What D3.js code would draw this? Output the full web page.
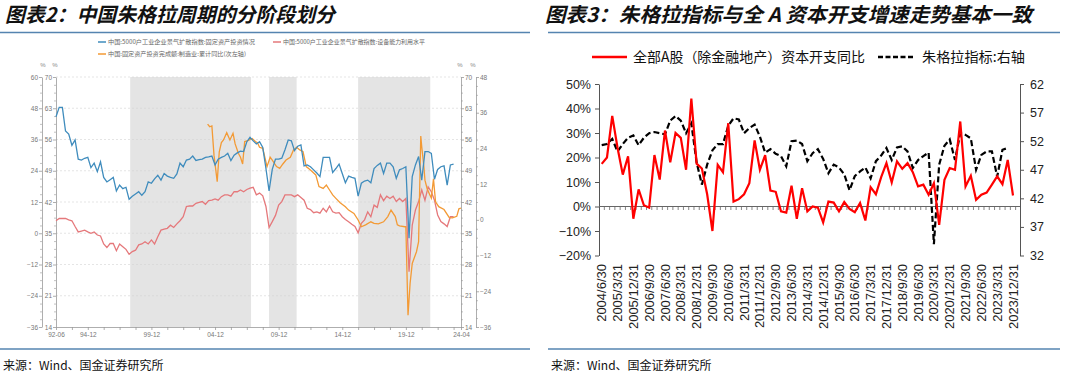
<!DOCTYPE html>
<html>
<head>
<meta charset="utf-8">
<script src="https://cdn.jsdelivr.net/npm/d3@7"></script>
<style>
  body { margin: 0; background: #fff; }
  svg { display: block; }
</style>
</head>
<body>
<svg id="chart" width="1080" height="378"></svg>
<script>
// ---------- 图表2 数据 ----------
const blueSeries = [ // 5000户工业企业景气扩散指数:固定资产投资情况 (内轴 14-70)
  ['1992-06',61.1],['1992-09',63.2],['1992-12',63.2],['1993-03',57.9],['1993-06',57.2],['1993-09',54.7],['1993-12',55.9],
  ['1994-03',51.6],['1994-06',51.4],['1994-09',51.8],['1994-12',52.0],['1995-03',49.7],['1995-06',50.7],['1995-09',48.8],
  ['1995-12',51.0],['1996-03',47.5],['1996-06',46.5],['1996-09',47.0],['1996-12',47.5],['1997-03',44.5],['1997-06',45.8],
  ['1997-09',45.0],['1997-12',45.3],['1998-03',42.6],['1998-06',43.3],['1998-09',43.8],['1998-12',44.3],['1999-03',43.5],
  ['1999-06',44.3],['1999-09',46.5],['1999-12',46.2],['2000-03',47.2],['2000-06',48.0],['2000-09',46.9],['2000-12',48.4],
  ['2001-03',47.8],['2001-06',47.5],['2001-09',47.3],['2001-12',48.3],['2002-03',50.7],['2002-06',49.9],['2002-09',51.4],
  ['2002-12',51.6],['2003-03',52.3],['2003-06',51.3],['2003-09',51.5],['2003-12',51.6],['2004-03',52.0],['2004-06',52.1],
  ['2004-09',52.3],['2004-12',50.3],['2005-03',51.6],['2005-06',52.0],['2005-09',52.3],['2005-12',52.9],['2006-03',51.3],
  ['2006-06',52.5],['2006-09',53.0],['2006-12',53.4],['2007-03',53.3],['2007-06',55.5],['2007-09',56.5],['2007-12',55.7],
  ['2008-03',55.0],['2008-06',55.5],['2008-09',54.2],['2008-12',49.5],['2009-03',44.5],['2009-06',49.3],['2009-09',51.6],
  ['2009-12',51.6],['2010-03',51.8],['2010-06',53.7],['2010-09',55.9],['2010-12',55.7],['2011-03',53.5],['2011-06',54.5],
  ['2011-09',54.8],['2011-12',50.1],['2012-03',50.3],['2012-06',49.9],['2012-09',49.2],['2012-12',48.5],['2013-03',47.7],
  ['2013-06',52.0],['2013-09',52.0],['2013-12',52.0],['2014-03',48.6],['2014-06',49.5],['2014-09',50.5],['2014-12',48.4],
  ['2015-03',46.3],['2015-06',47.8],['2015-09',47.5],['2015-12',47.3],['2016-03',43.3],['2016-06',46.2],['2016-09',46.7],
  ['2016-12',46.9],['2017-03',46.3],['2017-06',49.5],['2017-09',50.2],['2017-12',50.7],['2018-03',48.4],['2018-06',50.7],
  ['2018-09',50.7],['2018-12',49.9],['2019-03',47.3],['2019-06',49.2],['2019-09',49.5],['2019-12',49.9],['2020-03',33.9],
  ['2020-06',47.7],['2020-09',50.3],['2020-12',52.2],['2021-03',46.9],['2021-06',53.3],['2021-09',53.3],['2021-12',52.9],
  ['2022-03',47.1],['2022-06',49.3],['2022-09',49.9],['2022-12',50.1],['2023-03',45.8],['2023-06',50.3],['2023-09',50.5]
]
const redSeries = [ // 5000户工业企业景气扩散指数:设备能力利用水平 (内轴 14-70)
  ['1992-06',37.8],['1992-09',38.3],['1992-12',38.3],['1993-03',38.3],['1993-06',38.0],['1993-09',37.8],['1993-12',36.5],
  ['1994-03',35.3],['1994-06',35.5],['1994-09',35.7],['1994-12',35.3],['1995-03',35.0],['1995-06',35.3],['1995-09',34.6],
  ['1995-12',34.4],['1996-03',32.6],['1996-06',31.8],['1996-09',32.7],['1996-12',32.7],['1997-03',31.1],['1997-06',32.6],
  ['1997-09',32.0],['1997-12',31.4],['1998-03',30.3],['1998-06',30.9],['1998-09',31.2],['1998-12',32.4],['1999-03',32.6],
  ['1999-06',33.1],['1999-09',32.6],['1999-12',33.5],['2000-03',32.6],['2000-06',34.2],['2000-09',35.7],['2000-12',35.9],
  ['2001-03',36.1],['2001-06',36.8],['2001-09',36.3],['2001-12',37.1],['2002-03',37.8],['2002-06',38.7],['2002-09',41.0],
  ['2002-12',41.1],['2003-03',41.1],['2003-06',41.7],['2003-09',41.9],['2003-12',42.1],['2004-03',41.5],['2004-06',42.3],
  ['2004-09',42.4],['2004-12',42.7],['2005-03',42.4],['2005-06',43.2],['2005-09',43.6],['2005-12',43.6],['2006-03',43.3],
  ['2006-06',44.3],['2006-09',44.3],['2006-12',44.7],['2007-03',44.3],['2007-06',44.8],['2007-09',45.1],['2007-12',45.3],
  ['2008-03',43.6],['2008-06',44.0],['2008-09',43.4],['2008-12',41.0],['2009-03',36.3],['2009-06',37.6],['2009-09',39.0],
  ['2009-12',41.3],['2010-03',42.1],['2010-06',43.6],['2010-09',43.6],['2010-12',43.6],['2011-03',43.2],['2011-06',43.6],
  ['2011-09',43.0],['2011-12',42.4],['2012-03',40.6],['2012-06',40.3],['2012-09',39.6],['2012-12',39.8],['2013-03',39.5],
  ['2013-06',40.6],['2013-09',39.8],['2013-12',41.1],['2014-03',39.8],['2014-06',39.5],['2014-09',39.6],['2014-12',38.7],
  ['2015-03',38.1],['2015-06',37.6],['2015-09',37.0],['2015-12',36.5],['2016-03',35.1],['2016-06',37.2],['2016-09',38.0],
  ['2016-12',39.8],['2017-03',38.7],['2017-06',41.3],['2017-09',40.8],['2017-12',43.6],['2018-03',42.3],['2018-06',43.3],
  ['2018-09',42.8],['2018-12',43.3],['2019-03',42.1],['2019-06',42.8],['2019-09',42.1],['2019-12',42.8],['2020-03',26.4],
  ['2020-06',36.8],['2020-09',40.2],['2020-12',42.1],['2021-03',44.7],['2021-06',42.4],['2021-09',45.4],['2021-12',44.3],
  ['2022-03',42.4],['2022-06',39.1],['2022-09',37.6],['2022-12',37.1],['2023-03',36.5],['2023-06',38.7],['2023-09',38.7]
]
const orangeSeries = [ // 固定资产投资完成额:制造业:累计同比 (外左轴 -36~60)
  ['2004-05',41.9],['2004-07',40.9],['2004-09',41.2],['2004-11',30.0],['2005-02',19.8],['2005-04',31.3],['2005-06',34.8],
  ['2005-08',35.8],['2005-11',38.6],['2006-02',35.8],['2006-05',38.4],['2006-07',34.3],['2006-10',30.7],['2006-12',29.2],
  ['2007-02',26.6],['2007-04',35.2],['2007-07',35.6],['2007-11',36.4],['2008-02',35.2],['2008-04',34.8],['2008-06',33.0],
  ['2008-09',32.6],['2009-01',25.6],['2009-04',29.2],['2009-06',28.1],['2009-10',25.6],['2010-01',24.9],['2010-04',26.6],
  ['2010-07',28.1],['2010-11',29.2],['2011-02',32.0],['2011-05',33.0],['2011-08',32.0],['2011-11',31.3],['2012-02',25.6],
  ['2012-06',24.3],['2012-11',22.4],['2013-02',17.9],['2013-06',17.2],['2013-09',18.5],['2013-12',16.6],['2014-03',14.7],
  ['2014-06',13.4],['2014-10',11.7],['2015-03',10.2],['2015-06',8.9],['2015-11',7.6],['2016-03',5.1],['2016-06',2.5],
  ['2016-10',3.2],['2017-03',4.4],['2017-06',3.8],['2017-10',3.6],['2018-03',4.4],['2018-07',6.4],['2018-10',8.9],
  ['2019-02',6.4],['2019-04',3.2],['2019-06',2.8],['2019-11',2.5],['2019-12',2.5],['2020-02',-31.5],['2020-04',-19.2],
  ['2020-06',-11.6],['2020-10',-7.1],['2020-12',-3.2],['2021-02',37.3],['2021-03',33.2],['2021-05',25.6],['2021-06',20.4],
  ['2021-08',17.2],['2021-10',15.3],['2021-12',13.5],['2022-02',20.9],['2022-04',12.1],['2022-07',10.2],['2022-12',9.1],
  ['2023-05',6.0],['2023-08',5.9],['2023-12',6.5],['2024-02',9.4],['2024-04',9.7]
]
const shadePeriods = [['1998-04','2007-10'],['2009-03','2011-05'],['2016-03','2021-11']]
const xLabelsLeft = ['92-06','94-12','99-12','04-12','09-12','14-12','19-12','24-04']
const legendLeft = [
  '中国:5000户工业企业景气扩散指数:固定资产投资情况',
  '中国:5000户工业企业景气扩散指数:设备能力利用水平',
  '中国:固定资产投资完成额:制造业:累计同比(次左轴)'
]

// ---------- 图表3 数据 ----------
const capexYoY = [ // 全部A股(除金融地产)资本开支同比, %
  17.4,20,37,24,13,20.5,-5,7,0.5,-0.5,
  21,11,31,18,30,28,15,44,17.5,15.5,
  5,-10,17,14,34,2,3,5,9.5,27,
  15,21,6.5,6,-2,-2.5,8.5,-5,7.5,-2,
  0,-0.5,-6.5,2,1.6,-2,1.8,-1,-2.3,1.4,
  -5.7,7.9,5,12,17.7,9.8,18.4,15.4,17.7,14,
  8.2,8.9,4.8,9.5,-7.5,10.9,15.7,15,34.7,8.2,
  12.5,2.7,4.8,5.7,8.9,12.3,9.1,19,4.5
]
const juglarIdx = [ // 朱格拉指标, 右轴
  51.3,51.5,52.4,50.2,51.5,52.6,53.0,51.3,52.6,53.4,
  53.6,53.4,53.2,55.6,56.4,55.6,53.4,55.1,48.3,44.4,
  47.9,50.4,51.5,51.5,54.7,56.0,55.8,53.4,54.3,54.9,
  52.8,50.0,50.6,49.8,49.4,47.6,52.0,52.1,51.5,48.5,
  49.9,50.6,48.9,46.4,47.9,47.4,46.2,43.4,45.9,46.7,
  47.4,45.5,48.5,49.5,50.8,48.7,50.9,51.1,50.2,47.3,
  48.7,49.4,50.0,34.0,47.9,51.2,52.3,48.7,53.4,53.1,
  52.5,47.0,49.6,50.2,50.2,45.8,50.5,50.8
]
const xLabelsRight = ['2004/6/30','2005/3/31','2005/12/31','2006/9/30','2007/6/30','2008/3/31','2008/12/31',
  '2009/9/30','2010/6/30','2011/3/31','2011/12/31','2012/9/30','2013/6/30','2014/3/31','2014/12/31',
  '2015/9/30','2016/6/30','2017/3/31','2017/12/31','2018/9/30','2019/6/30','2020/3/31','2020/12/31',
  '2021/9/30','2022/6/30','2023/3/31','2023/12/31']

const cjk = '"Noto Sans CJK SC", sans-serif'
const latin = '"Liberation Sans", Arial, sans-serif'
const svg = d3.select('#chart')
const parseM = d3.timeParse('%Y-%m')

// ---------- 标题 / 分隔线 / 来源 ----------
function header(x, text, len, ruleX0, ruleX1) {
  svg.append('text').attr('x', x).attr('y', 22).text(text)
     .attr('font-family', cjk).attr('font-size', 20).attr('font-weight', 'bold').attr('font-style', 'italic')
     .attr('textLength', len).attr('lengthAdjust', 'spacingAndGlyphs').attr('fill', '#111')
  svg.append('line').attr('x1', ruleX0).attr('x2', ruleX1).attr('y1', 32.5).attr('y2', 32.5)
     .attr('stroke', '#5584b0').attr('stroke-width', 1.3)
  svg.append('line').attr('x1', ruleX0).attr('x2', ruleX1).attr('y1', 349).attr('y2', 349)
     .attr('stroke', '#5584b0').attr('stroke-width', 1.3)
  svg.append('text').attr('x', ruleX0 + 3).attr('y', 370).text('来源：Wind、国金证券研究所')
     .attr('font-family', cjk).attr('font-size', 12).attr('fill', '#111')
}
header(5, '图表2：中国朱格拉周期的分阶段划分', 330, 0, 530)
header(545, '图表3：朱格拉指标与全 A 资本开支增速走势基本一致', 487, 548, 1060)

// ---------- 图表2 ----------
const L = { x0: 56, x1: 461, y0: 77, y1: 327 }
const xL = d3.scaleTime().domain([parseM('1992-06'), parseM('2024-04')]).range([L.x0, L.x1])
const yInner = d3.scaleLinear().domain([14, 70]).range([L.y1, L.y0])
const yOuterL = d3.scaleLinear().domain([-36, 60]).range([L.y1, L.y0])
const yOuterR = d3.scaleLinear().domain([-36, 48]).range([L.y1, L.y0])

let left = svg.append('g').attr('class', 'left-chart')

// 阴影区间
left.selectAll('.shade').data(shadePeriods).join('rect')
    .attr('x', d => xL(parseM(d[0])))
    .attr('width', d => xL(parseM(d[1])) - xL(parseM(d[0])))
    .attr('y', L.y0).attr('height', L.y1 - L.y0)
    .attr('fill', '#e4e4e4')

// 网格线
const innerTicks = d3.range(14, 71, 7)
left.selectAll('.grid').data(innerTicks.slice(1)).join('line')
    .attr('x1', L.x0).attr('x2', L.x1)
    .attr('y1', d => yInner(d)).attr('y2', d => yInner(d))
    .attr('stroke', '#d4d4d4').attr('stroke-width', 0.6).attr('stroke-dasharray', '2,2')

function styleAxis(g, size, color) {
  g.selectAll('path.domain').attr('stroke', '#999').attr('stroke-width', 0.8)
  g.selectAll('.tick line').attr('stroke', '#999').attr('stroke-width', 0.8)
  g.selectAll('.tick text').attr('font-size', size).attr('fill', color).attr('font-family', latin)
}
function minorTicks(g, scale, step, orient) {
  const [a, b] = scale.domain()
  const vals = d3.range(a, b + 0.001, step / 4).filter((v, i) => i % 4 !== 0)
  const ax = orient === 'left' ? d3.axisLeft(scale) : d3.axisRight(scale)
  g.append('g').call(ax.tickValues(vals).tickSize(2).tickFormat('').tickSizeOuter(0))
   .call(s => { s.select('.domain').remove(); s.selectAll('line').attr('stroke', '#999').attr('stroke-width', 0.6) })
}

let axOL = left.append('g').attr('transform', 'translate(42,0)')
axOL.call(d3.axisLeft(yOuterL).tickValues(d3.range(-36, 61, 12)).tickSize(3).tickPadding(1).tickSizeOuter(0))
styleAxis(axOL, 6.5, '#777'); minorTicks(axOL, yOuterL, 12, 'left')

let axIL = left.append('g').attr('transform', `translate(${L.x0},0)`)
axIL.call(d3.axisLeft(yInner).tickValues(innerTicks).tickSize(3).tickPadding(1).tickSizeOuter(0))
styleAxis(axIL, 6.5, '#777'); minorTicks(axIL, yInner, 7, 'left')

let axIR = left.append('g').attr('transform', `translate(${L.x1},0)`)
axIR.call(d3.axisRight(yInner).tickValues(innerTicks).tickSize(3).tickPadding(1).tickSizeOuter(0))
styleAxis(axIR, 6.5, '#777'); minorTicks(axIR, yInner, 7, 'right')

let axOR = left.append('g').attr('transform', 'translate(476,0)')
axOR.call(d3.axisRight(yOuterR).tickValues(d3.range(-36, 49, 12)).tickSize(3).tickPadding(1).tickSizeOuter(0))
styleAxis(axOR, 6.5, '#777'); minorTicks(axOR, yOuterR, 12, 'right')

// x 轴: 每15个月一个刻度
const fmtYM = d3.timeFormat('%y-%m')
const xTicks = d3.timeMonth.every(15).range ? d3.range(0, 26).map(i => d3.timeMonth.offset(parseM('1992-06'), 15 * i))
                 .filter(d => d < parseM('2024-04')) : []
xTicks.push(parseM('2024-04'))
let axB = left.append('g').attr('transform', `translate(0,${L.y1})`)
axB.call(d3.axisBottom(xL).tickValues(xTicks).tickSize(3).tickPadding(2).tickSizeOuter(0)
     .tickFormat(d => xLabelsLeft.includes(fmtYM(d)) ? fmtYM(d) : ''))
styleAxis(axB, 6.5, '#777')

// 百分号
;[[43, 67], [55, 67], [460, 67], [473, 67]].forEach(p => {
  left.append('text').attr('x', p[0]).attr('y', p[1]).text('%')
      .attr('font-size', 6).attr('fill', '#888').attr('text-anchor', 'middle').attr('font-family', latin)
})

// 折线
const lineInner = d3.line().x(d => xL(parseM(d[0]))).y(d => yInner(d[1]))
const lineOuter = d3.line().x(d => xL(parseM(d[0]))).y(d => yOuterL(d[1]))
const leftColors = ['#3f8cbd', '#e5787b', '#f39a35']
left.append('path').attr('d', lineInner(redSeries)).attr('fill', 'none').attr('stroke', leftColors[1]).attr('stroke-width', 1.3)
left.append('path').attr('d', lineOuter(orangeSeries)).attr('fill', 'none').attr('stroke', leftColors[2]).attr('stroke-width', 1.3)
left.append('path').attr('d', lineInner(blueSeries)).attr('fill', 'none').attr('stroke', leftColors[0]).attr('stroke-width', 1.3)

// 图例
const legPos = [[98, 42, 147], [273, 42, 142], [98, 54, 138]]
legendLeft.forEach((t, i) => {
  const [lx, ly, len] = legPos[i]
  left.append('line').attr('x1', lx).attr('x2', lx + 8).attr('y1', ly).attr('y2', ly)
      .attr('stroke', leftColors[i]).attr('stroke-width', 1.5)
  left.append('text').attr('x', lx + 10).attr('y', ly + 2.2).text(t)
      .attr('font-size', 6).attr('fill', '#666').attr('font-family', cjk)
      .attr('textLength', len).attr('lengthAdjust', 'spacingAndGlyphs')
})

// ---------- 图表3 ----------
const R = { x0: 599, x1: 1020, y0: 84, y1: 255.5 }
const quarters = d3.range(capexYoY.length).map(i => {
  const m = d3.timeMonth.offset(new Date(2004, 5, 1), 3 * i)
  const last = d3.timeDay.offset(d3.timeMonth.offset(m, 1), -1)
  return `${m.getFullYear()}/${m.getMonth() + 1}/${last.getDate()}`
})
const xR = d3.scalePoint().domain(quarters).range([601.7, 1013]).padding(0)
const step = xR.step()
const yRL = d3.scaleLinear().domain([-20, 50]).range([R.y1, R.y0])
const yRR = d3.scaleLinear().domain([32, 62]).range([R.y1, R.y0])

let right = svg.append('g').attr('class', 'right-chart')

let axRL = right.append('g').attr('transform', `translate(${R.x0},0)`)
axRL.call(d3.axisLeft(yRL).tickValues(d3.range(-20, 51, 10)).tickSize(4).tickPadding(4).tickSizeOuter(0)
      .tickFormat(d => (d < 0 ? '\u2212' + (-d) : d) + '%'))
axRL.selectAll('path.domain, .tick line').attr('stroke', '#555').attr('stroke-width', 1)
axRL.selectAll('.tick text').attr('font-size', 12.5).attr('fill', '#222').attr('font-family', latin)

let axRR = right.append('g').attr('transform', `translate(${R.x1},0)`)
axRR.call(d3.axisRight(yRR).tickValues(d3.range(32, 63, 5)).tickSize(4).tickPadding(6).tickSizeOuter(0))
axRR.selectAll('path.domain, .tick line').attr('stroke', '#555').attr('stroke-width', 1)
axRR.selectAll('.tick text').attr('font-size', 12.5).attr('fill', '#222').attr('font-family', latin)

// 0% 轴线及季度刻度
const zeroY = yRL(0)
right.append('line').attr('x1', R.x0).attr('x2', R.x1).attr('y1', zeroY).attr('y2', zeroY)
     .attr('stroke', '#666').attr('stroke-width', 1)
right.selectAll('.qtick').data(quarters).join('line')
     .attr('x1', d => xR(d) + step / 2).attr('x2', d => xR(d) + step / 2)
     .attr('y1', zeroY).attr('y2', zeroY + 3.5)
     .attr('stroke', '#666').attr('stroke-width', 0.8)

// 旋转的日期标签
right.selectAll('.xlab').data(xLabelsRight).join('text')
     .attr('transform', d => `translate(${xR(d)},264) rotate(-90)`)
     .attr('dy', '0.35em').attr('text-anchor', 'end')
     .text(d => d)
     .attr('font-size', 13).attr('fill', '#222').attr('font-family', latin)

// 折线
const capexLine = d3.line().x((d, i) => xR(quarters[i])).y(d => yRL(d))
const juglarLine = d3.line().x((d, i) => xR(quarters[i])).y(d => yRR(d))
right.append('path').attr('d', juglarLine(juglarIdx)).attr('fill', 'none')
     .attr('stroke', '#000').attr('stroke-width', 2.2).attr('stroke-dasharray', '6,3')
right.append('path').attr('d', capexLine(capexYoY)).attr('fill', 'none')
     .attr('stroke', '#ff0000').attr('stroke-width', 2.2)

// 图例
right.append('line').attr('x1', 592).attr('x2', 627).attr('y1', 57).attr('y2', 57)
     .attr('stroke', '#ff0000').attr('stroke-width', 2.5)
right.append('text').attr('x', 633).attr('y', 62).text('全部A股（除金融地产）资本开支同比')
     .attr('font-size', 14).attr('font-family', cjk).attr('fill', '#111')
     .attr('textLength', 232).attr('lengthAdjust', 'spacingAndGlyphs')
right.append('line').attr('x1', 878).attr('x2', 913).attr('y1', 57).attr('y2', 57)
     .attr('stroke', '#000').attr('stroke-width', 2.5).attr('stroke-dasharray', '5,2.5')
right.append('text').attr('x', 922).attr('y', 62).text('朱格拉指标:右轴')
     .attr('font-size', 14).attr('font-family', cjk).attr('fill', '#111')
     .attr('textLength', 103).attr('lengthAdjust', 'spacingAndGlyphs')
</script>
</body>
</html>
